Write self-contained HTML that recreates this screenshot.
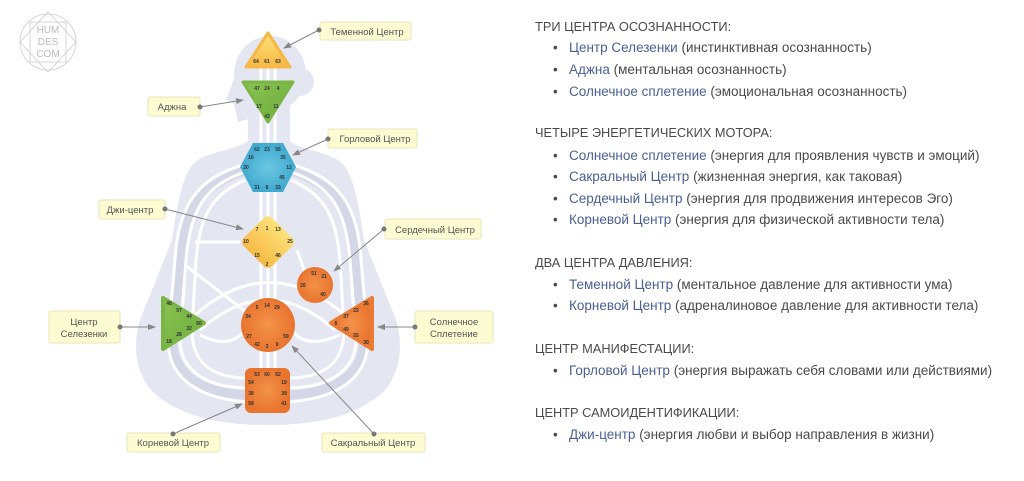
<!DOCTYPE html>
<html><head><meta charset="utf-8"><style>
body{margin:0;width:1024px;height:481px;background:#fff;overflow:hidden;position:relative;font-family:"Liberation Sans",sans-serif}
svg{position:absolute;left:0;top:0}
.t{position:absolute;left:535px;font-size:12.8px;color:#4a4a4a;white-space:nowrap;line-height:16px}
.i{left:553px;font-size:13.5px}
.i b{font-weight:normal;color:#4a5f94}
</style></head><body>
<svg width="1024" height="481" viewBox="0 0 1024 481" font-family="Liberation Sans, sans-serif">
<defs>
<linearGradient id="y" x1="0" y1="0" x2="0" y2="1"><stop offset="0" stop-color="#fde27a"/><stop offset="1" stop-color="#f6b945"/></linearGradient>
<linearGradient id="g" x1="0" y1="0" x2="1" y2="1"><stop offset="0" stop-color="#8cc451"/><stop offset="1" stop-color="#6aab3c"/></linearGradient>
<radialGradient id="o"><stop offset="0" stop-color="#f4924a"/><stop offset="1" stop-color="#e8742e"/></radialGradient>
<radialGradient id="b"><stop offset="0" stop-color="#6cc7e2"/><stop offset="1" stop-color="#3fa9cf"/></radialGradient>
<marker id="a" markerWidth="8" markerHeight="8" refX="7" refY="4" orient="auto" markerUnits="userSpaceOnUse"><path d="M0,1 L8,4 L0,7Z" fill="#888"/></marker>
</defs>
<g stroke="#ccc" fill="none" stroke-width="0.8">
<circle cx="48" cy="42" r="28"/><rect x="30" y="22" width="36" height="40"/>
<polygon points="48,12 76,42 48,72 20,42"/>
</g>
<text x="48" y="33" font-size="10" fill="#bbb" text-anchor="middle">HUM</text>
<text x="48" y="45" font-size="10" fill="#bbb" text-anchor="middle">DES</text>
<text x="48" y="57" font-size="10" fill="#bbb" text-anchor="middle">COM</text>
<g fill="#e4e7f1">
<ellipse cx="270" cy="74" rx="36" ry="38"/>
<circle cx="300" cy="82" r="14"/>
<path d="M238,68 L226,100 L234,104 L238,122 L252,118Z"/>
<rect x="248" y="95" width="42" height="55"/>
<path d="M250,140 C235,150 210,152 198,160 C183,170 178,200 172,240 L140,320 C132,345 135,380 160,398 C190,420 230,425 268,425 C306,425 346,420 376,398 C401,380 404,345 396,320 L364,240 C358,200 353,170 338,160 C326,152 301,150 287,140Z"/>
</g>
<g fill="none" stroke="#d3d7e6" stroke-width="10">
<path d="M245,170 C200,185 185,210 180,260 L172,340 C172,380 210,395 250,395"/>
<path d="M291,170 C336,185 351,210 356,260 L364,340 C364,380 326,395 286,395"/>
</g>
<g fill="none" stroke="#fff" stroke-width="3">
<line x1="261" y1="60" x2="261" y2="380"/><line x1="268" y1="60" x2="268" y2="380"/><line x1="275" y1="60" x2="275" y2="380"/>
<path d="M245,172 C205,185 190,210 186,260 L180,340 C180,372 210,388 248,388"/>
<path d="M243,165 C198,178 178,205 175,260 L168,340 C168,385 210,400 250,402"/>
<path d="M245,180 C212,195 200,215 196,260 L192,330 C192,365 215,378 248,378"/>
<path d="M291,172 C331,185 346,210 350,260 L356,340 C356,372 326,388 288,388"/>
<path d="M293,165 C338,178 358,205 361,260 L368,340 C368,385 326,400 286,402"/>
<path d="M291,180 C324,195 336,215 340,260 L344,330 C344,365 321,378 288,378"/>
<path d="M195,315 Q268,250 345,315"/>
<path d="M200,330 Q268,270 335,330"/>
<path d="M200,335 Q230,350 245,330"/>
<path d="M340,335 Q305,350 292,330"/>
<line x1="185" y1="265" x2="250" y2="315"/>
<line x1="195" y1="242" x2="240" y2="242"/>
<line x1="297" y1="250" x2="305" y2="272"/>
</g>
<path d="M268,33 L290,67 L246,67Z" fill="url(#y)" stroke="#f6b945" stroke-width="3" stroke-linejoin="round"/>
<path d="M243,82 L293,82 L268,122Z" fill="url(#g)" stroke="#7ab646" stroke-width="3" stroke-linejoin="round"/>
<polygon points="253,143 283,143 296,167 283,192 253,192 240,167" fill="url(#b)"/>
<rect x="248" y="222" width="40" height="40" rx="6" transform="rotate(45 268 242)" fill="url(#y)"/>
<circle cx="315" cy="285" r="18" fill="url(#o)"/>
<circle cx="268" cy="325" r="27" fill="url(#o)"/>
<path d="M163,298 L204,323 L163,349Z" fill="url(#g)" stroke="#7ab646" stroke-width="4" stroke-linejoin="round"/>
<path d="M372,298 L331,323 L372,349Z" fill="url(#o)" stroke="#ea7a34" stroke-width="4" stroke-linejoin="round"/>
<rect x="245" y="368" width="45" height="45" rx="6" fill="url(#o)"/>
<g font-size="5" font-weight="bold" fill="#333" text-anchor="middle">
<text x="256" y="63">64</text><text x="267" y="63">61</text><text x="278" y="63">63</text>
<text x="257" y="90">47</text><text x="267" y="90">24</text><text x="278" y="90">4</text>
<text x="259" y="108">17</text><text x="276" y="108">11</text><text x="267" y="118">43</text>
<text x="257" y="151">62</text><text x="267" y="151">23</text><text x="278" y="151">56</text>
<text x="251" y="159">16</text><text x="283" y="159">35</text><text x="246" y="169">20</text><text x="289" y="169">12</text>
<text x="282" y="179">45</text><text x="257" y="189">31</text><text x="267" y="189">8</text><text x="278" y="189">33</text>
<text x="267" y="230">1</text><text x="257" y="231">7</text><text x="278" y="231">13</text><text x="246" y="243">10</text><text x="290" y="243">25</text>
<text x="257" y="257">15</text><text x="278" y="257">46</text><text x="267" y="266">2</text>
<text x="314" y="275">51</text><text x="324" y="278">21</text><text x="303" y="287">26</text><text x="323" y="296">40</text>
<text x="257" y="309">5</text><text x="267" y="307">14</text><text x="277" y="309">29</text><text x="248" y="318">34</text>
<text x="249" y="338">27</text><text x="286" y="338">59</text><text x="257" y="346">42</text><text x="267" y="348">3</text><text x="277" y="346">9</text>
<text x="169" y="305">48</text><text x="179" y="312">57</text><text x="189" y="318">44</text><text x="199" y="325">50</text>
<text x="189" y="330">32</text><text x="179" y="336">28</text><text x="169" y="343">18</text>
<text x="366" y="305">36</text><text x="356" y="312">22</text><text x="346" y="318">37</text><text x="336" y="325">6</text>
<text x="346" y="331">49</text><text x="356" y="337">55</text><text x="366" y="344">30</text>
<text x="257" y="376">53</text><text x="267" y="376">60</text><text x="278" y="376">52</text>
<text x="251" y="384">54</text><text x="284" y="384">19</text><text x="251" y="395">38</text><text x="284" y="395">39</text>
<text x="251" y="405">58</text><text x="284" y="405">41</text>
</g>
<g fill="#fcfbd2" stroke="#e9e6b8" stroke-width="1">
<rect x="320" y="22" width="91" height="18" rx="2"/>
<rect x="148" y="97" width="52" height="19" rx="2"/>
<rect x="328" y="129" width="89" height="19" rx="2"/>
<rect x="99" y="200" width="66" height="19" rx="2"/>
<rect x="385" y="219" width="96" height="20" rx="2"/>
<rect x="49" y="311" width="71" height="32" rx="2"/>
<rect x="415" y="311" width="78" height="32" rx="2"/>
<rect x="127" y="433" width="93" height="19" rx="2"/>
<rect x="322" y="433" width="103" height="19" rx="2"/>
</g>
<g font-size="9.5" fill="#555" text-anchor="middle">
<text x="367" y="35">Теменной Центр</text>
<text x="172" y="110">Аджна</text>
<text x="375" y="142">Горловой Центр</text>
<text x="130" y="213">Джи-центр</text>
<text x="435" y="233">Сердечный Центр</text>
<text x="84" y="325">Центр</text><text x="84" y="337">Селезенки</text>
<text x="454" y="325">Солнечное</text><text x="454" y="337">Сплетение</text>
<text x="173" y="446">Корневой Центр</text>
<text x="373" y="446">Сакральный Центр</text>
</g>
<g stroke="#888" stroke-width="1" fill="none" marker-end="url(#a)">
<line x1="319" y1="30" x2="284" y2="48"/>
<line x1="200" y1="107" x2="243" y2="100"/>
<line x1="328" y1="139" x2="293" y2="155"/>
<line x1="165" y1="209" x2="243" y2="229"/>
<line x1="384" y1="229" x2="334" y2="271"/>
<line x1="120" y1="327" x2="155" y2="327"/>
<line x1="415" y1="327" x2="378" y2="327"/>
<line x1="173" y1="434" x2="242" y2="404"/>
<line x1="374" y1="434" x2="292" y2="346"/>
</g>
<g fill="#777">
<circle cx="319" cy="30" r="2.5"/><circle cx="200" cy="107" r="2.5"/><circle cx="328" cy="139" r="2.5"/>
<circle cx="165" cy="209" r="2.5"/><circle cx="384" cy="229" r="2.5"/><circle cx="120" cy="327" r="2.5"/>
<circle cx="415" cy="327" r="2.5"/><circle cx="173" cy="434" r="2.5"/><circle cx="374" cy="434" r="2.5"/>
</g>
</svg>
<div class="t" style="top:19px">ТРИ ЦЕНТРА ОСОЗНАННОСТИ:</div>
<div class="t i" style="top:40px">•&nbsp;&nbsp;&nbsp;<b>Центр Селезенки</b> (инстинктивная осознанность)</div>
<div class="t i" style="top:62px">•&nbsp;&nbsp;&nbsp;<b>Аджна</b> (ментальная осознанность)</div>
<div class="t i" style="top:84px">•&nbsp;&nbsp;&nbsp;<b>Солнечное сплетение</b> (эмоциональная осознанность)</div>
<div class="t" style="top:125px">ЧЕТЫРЕ ЭНЕРГЕТИЧЕСКИХ МОТОРА:</div>
<div class="t i" style="top:148px">•&nbsp;&nbsp;&nbsp;<b>Солнечное сплетение</b> (энергия для проявления чувств и эмоций)</div>
<div class="t i" style="top:169px">•&nbsp;&nbsp;&nbsp;<b>Сакральный Центр</b> (жизненная энергия, как таковая)</div>
<div class="t i" style="top:191px">•&nbsp;&nbsp;&nbsp;<b>Сердечный Центр</b> (энергия для продвижения интересов Эго)</div>
<div class="t i" style="top:212px">•&nbsp;&nbsp;&nbsp;<b>Корневой Центр</b> (энергия для физической активности тела)</div>
<div class="t" style="top:255px">ДВА ЦЕНТРА ДАВЛЕНИЯ:</div>
<div class="t i" style="top:277px">•&nbsp;&nbsp;&nbsp;<b>Теменной Центр</b> (ментальное давление для активности ума)</div>
<div class="t i" style="top:298px">•&nbsp;&nbsp;&nbsp;<b>Корневой Центр</b> (адреналиновое давление для активности тела)</div>
<div class="t" style="top:341px">ЦЕНТР МАНИФЕСТАЦИИ:</div>
<div class="t i" style="top:363px">•&nbsp;&nbsp;&nbsp;<b>Горловой Центр</b> (энергия выражать себя словами или действиями)</div>
<div class="t" style="top:405px">ЦЕНТР САМОИДЕНТИФИКАЦИИ:</div>
<div class="t i" style="top:427px">•&nbsp;&nbsp;&nbsp;<b>Джи-центр</b> (энергия любви и выбор направления в жизни)</div>
</body></html>
